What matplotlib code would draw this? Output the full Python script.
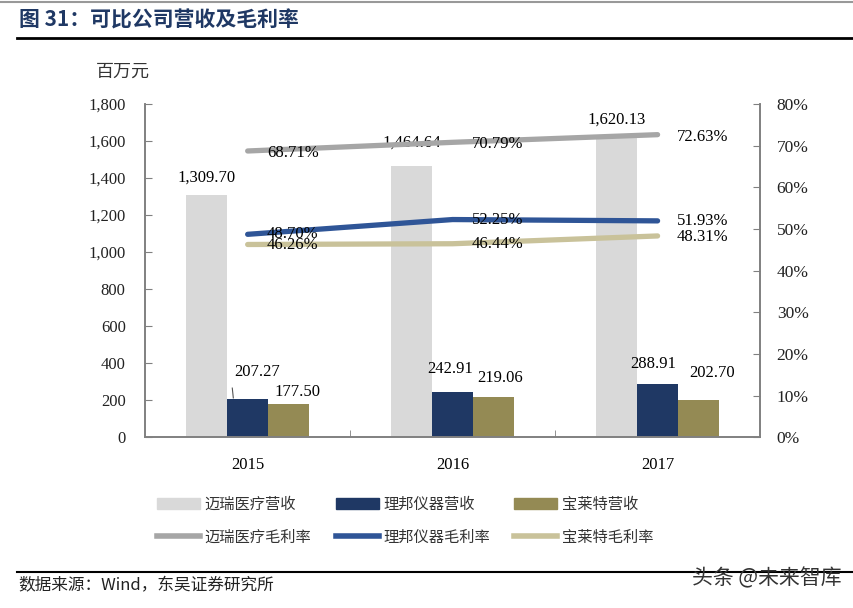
import numpy as np
import matplotlib.pyplot as plt
from matplotlib.lines import Line2D
from matplotlib.patches import Patch

plt.rcParams['font.family'] = ['Liberation Serif', 'Noto Sans CJK SC', 'DejaVu Sans']

years = ['2015', '2016', '2017']
rev_mindray = [1309.70, 1464.64, 1620.13]
rev_edan = [207.27, 242.91, 288.91]
rev_biolight = [177.50, 219.06, 202.70]
gm_mindray = [68.71, 70.79, 72.63]
gm_edan = [48.70, 52.25, 51.93]
gm_biolight = [46.26, 46.44, 48.31]

c_grey_bar = '#D9D9D9'
c_navy = '#1F3864'
c_olive = '#948A54'
c_grey_line = '#A6A6A6'
c_blue_line = '#2F5597'
c_tan_line = '#C9C29A'
c_axis = '#808080'
cjk = ['Noto Sans CJK SC', 'DejaVu Sans']

fig = plt.figure(figsize=(8.54, 6.08), dpi=100)
ax = fig.add_axes([0.170, 0.281, 0.720, 0.548])
ax2 = ax.twinx()

x = np.arange(len(years))
w = 0.2
ax.bar(x - w, rev_mindray, w, color=c_grey_bar)
ax.bar(x, rev_edan, w, color=c_navy)
ax.bar(x + w, rev_biolight, w, color=c_olive)

ax.set_xlim(-0.5, 2.5)
ax.set_ylim(0, 1800)
ax.set_yticks(range(0, 1801, 200))
ax.set_yticklabels([f'{v:,}' for v in range(0, 1801, 200)], fontsize=12, color='#222222')
ax.set_xticks(x)
ax.set_xticklabels(years, fontsize=12)
ax.set_xticks([0.5, 1.5], minor=True)
ax.tick_params(axis='x', which='major', length=0, pad=14)
ax.tick_params(axis='x', which='minor', direction='in', length=5, color=c_axis)
ax.tick_params(axis='y', direction='in', length=5, color=c_axis, pad=14)

ax2.set_ylim(0, 80)
ax2.set_yticks(range(0, 81, 10))
ax2.set_yticklabels([f'{v}%' for v in range(0, 81, 10)], fontsize=12.5, color='#222222')
ax2.tick_params(axis='y', direction='in', length=5, color=c_axis, pad=12)

for a in (ax, ax2):
    a.spines['top'].set_visible(False)
    for s in ('left', 'right', 'bottom'):
        a.spines[s].set_color(c_axis)
        a.spines[s].set_linewidth(1.2)

ax2.plot(x, gm_mindray, color=c_grey_line, lw=3.8, solid_capstyle='round')
ax2.plot(x, gm_edan, color=c_blue_line, lw=3.8, solid_capstyle='round')
ax2.plot(x, gm_biolight, color=c_tan_line, lw=3.8, solid_capstyle='round')

# bar value labels (offsets in points)
mind_off = [(0, 12.5), (0, 16.5), (0, 12.5)]
edan_off = [(7, 19), (-2, 17), (-3, 14)]
bio_off = [(6.5, 8.6), (4.7, 13.3), (9.7, 19)]
for i in range(3):
    ax.annotate(f'{rev_mindray[i]:,.2f}', (x[i] - w, rev_mindray[i]), xytext=mind_off[i],
                textcoords='offset points', ha='center', va='center', fontsize=12)
    ax.annotate(f'{rev_edan[i]:.2f}', (x[i], rev_edan[i]), xytext=edan_off[i],
                textcoords='offset points', ha='center', va='center', fontsize=12)
    ax.annotate(f'{rev_biolight[i]:.2f}', (x[i] + w, rev_biolight[i]), xytext=bio_off[i],
                textcoords='offset points', ha='center', va='center', fontsize=12)
ax.plot([x[0] - 0.075, x[0] - 0.07], [265, 212], color='#555555', lw=0.8)

# margin labels
for series, dy in ((gm_mindray, -1.5), (gm_edan, 0), (gm_biolight, -0.5)):
    for i in range(3):
        ax2.annotate(f'{series[i]:.2f}%', (x[i], series[i]), xytext=(14, dy),
                     textcoords='offset points', ha='left', va='center', fontsize=12)

# legend
handles = [Patch(color=c_grey_bar), Patch(color=c_navy), Patch(color=c_olive),
           Line2D([], [], color=c_grey_line, lw=4), Line2D([], [], color=c_blue_line, lw=4),
           Line2D([], [], color=c_tan_line, lw=4)]
labels = ['迈瑞医疗营收', '理邦仪器营收', '宝莱特营收',
          '迈瑞医疗毛利率', '理邦仪器毛利率', '宝莱特毛利率']
order = [0, 3, 1, 4, 2, 5]
leg = fig.legend([handles[k] for k in order], [labels[k] for k in order], ncol=3,
                 loc='upper left', bbox_to_anchor=(0.168, 0.207), frameon=False,
                 prop={'family': cjk, 'size': 11}, handlelength=2.8, handleheight=0.8,
                 columnspacing=1.6, handletextpad=0.3, labelspacing=1.05)
for t in leg.get_texts():
    t.set_color('#333333')

# title, unit, footer
fig.lines.append(Line2D([0, 1], [0.996, 0.996], color='#999999', lw=1.5, transform=fig.transFigure))
fig.text(0.022, 0.967, '图 31：可比公司营收及毛利率', fontsize=15, fontweight='bold',
         color=c_navy, family=cjk, va='center')
fig.lines.append(Line2D([0.02, 1], [0.937, 0.937], color='black', lw=2, transform=fig.transFigure))
fig.text(0.112, 0.882, '百万元', fontsize=13, family=cjk, va='center', color='#333333')
fig.lines.append(Line2D([0.02, 1], [0.06, 0.06], color='black', lw=1.5, transform=fig.transFigure))
fig.text(0.022, 0.037, '数据来源：Wind，东吴证券研究所', fontsize=12, family=cjk,
         va='center', color='#222222')
fig.text(0.985, 0.049, '头条 @未来智库', fontsize=15, family=cjk, va='center', ha='right',
         color='#333333')

fig.savefig('out.png', dpi=100)
